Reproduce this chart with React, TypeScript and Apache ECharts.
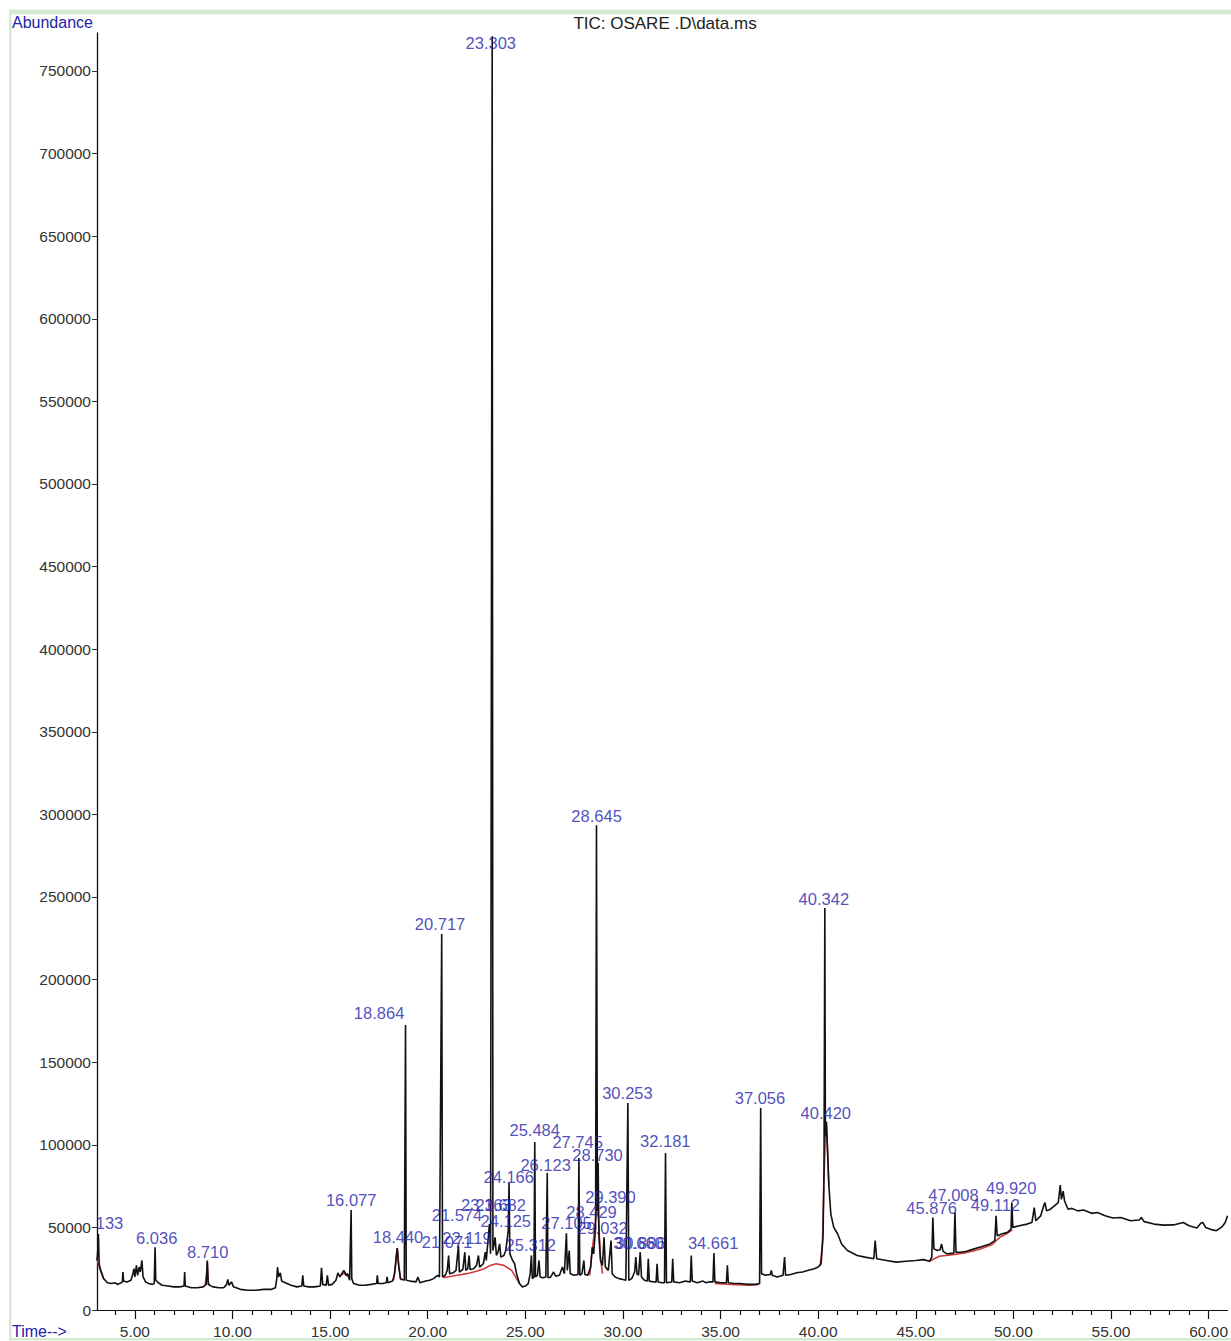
import React, { useEffect, useRef } from "react";
import * as echarts from "echarts";

// Retention time (min), abundance
const TRACE: [number, number][] = [
  [3.06, 30000], [3.1, 36000], [3.133, 46000], [3.17, 28000], [3.25, 24000], [3.4, 19000], [3.6, 16500],
  [3.8, 16000], [4.0, 16500], [4.1, 15500], [4.3, 16500], [4.36, 17000], [4.39, 23000], [4.42, 17500],
  [4.6, 17000], [4.8, 18000], [4.9, 22000], [4.95, 25000], [5.0, 20000], [5.08, 27000], [5.14, 21000],
  [5.22, 26000], [5.28, 23000], [5.36, 30000], [5.42, 20000], [5.55, 17000], [5.7, 16000], [5.9, 15500],
  [5.99, 16000], [6.036, 38000], [6.07, 18000], [6.2, 16500], [6.4, 15000], [6.7, 14500], [7.0, 14000],
  [7.3, 14000], [7.52, 14500], [7.55, 23000], [7.58, 14500], [7.9, 13500], [8.2, 13500], [8.5, 14000],
  [8.65, 15500], [8.71, 30000], [8.76, 15500], [9.0, 14000], [9.3, 13500], [9.55, 13500], [9.7, 15500],
  [9.76, 18500], [9.82, 15000], [9.95, 17000], [10.05, 14000], [10.4, 12500], [10.8, 12000], [11.2, 12000],
  [11.6, 12500], [12.0, 12500], [12.2, 13500], [12.27, 19000], [12.31, 26000], [12.36, 20000], [12.45, 22500],
  [12.52, 17500], [12.7, 16500], [13.0, 15000], [13.3, 14000], [13.55, 14500], [13.6, 21000], [13.65, 14500],
  [13.9, 14000], [14.2, 14000], [14.5, 14500], [14.56, 25500], [14.62, 15500], [14.8, 15000], [14.86, 21000],
  [14.92, 15000], [15.1, 15500], [15.3, 18000], [15.4, 22500], [15.5, 20000], [15.6, 22000], [15.7, 24000],
  [15.8, 21000], [15.9, 22000], [16.0, 18000], [16.077, 60500], [16.11, 19000], [16.2, 16000], [16.5, 15000],
  [16.8, 15000], [17.1, 15500], [17.38, 16000], [17.42, 21000], [17.46, 16000], [17.7, 16000], [17.88, 16500],
  [17.92, 20000], [17.96, 16500], [18.2, 17500], [18.3, 22000], [18.4, 34000], [18.44, 37500], [18.5, 28000],
  [18.6, 19000], [18.8, 18000], [18.864, 172500], [18.9, 18000], [19.1, 17500], [19.4, 17000], [19.5, 20000],
  [19.6, 16500], [19.9, 17500], [20.1, 18000], [20.3, 19000], [20.5, 21000], [20.6, 20000], [20.717, 227600],
  [20.76, 20000], [20.9, 21000], [21.0, 24000], [21.071, 33000], [21.12, 22000], [21.3, 22500], [21.45, 24000],
  [21.574, 39000], [21.62, 23000], [21.8, 24500], [21.9, 35000], [21.95, 24000], [22.05, 25000], [22.119, 33000],
  [22.17, 24500], [22.35, 25000], [22.5, 27000], [22.6, 33000], [22.66, 26000], [22.85, 28000], [22.95, 35000],
  [23.0, 30000], [23.163, 52000], [23.22, 34000], [23.303, 771000], [23.34, 36000], [23.45, 44000], [23.52, 33000],
  [23.6, 35000], [23.682, 40000], [23.75, 32000], [23.9, 33000], [24.0, 36000], [24.125, 48000], [24.166, 77000],
  [24.21, 34000], [24.35, 30000], [24.45, 28000], [24.55, 22000], [24.7, 16000], [24.85, 14000], [25.0, 14500],
  [25.15, 16000], [25.25, 22000], [25.312, 33000], [25.36, 19000], [25.44, 20000], [25.484, 101700], [25.52, 20000],
  [25.62, 21000], [25.7, 30000], [25.76, 20000], [25.9, 19500], [26.05, 20000], [26.123, 83000], [26.16, 19500],
  [26.3, 20000], [26.45, 23000], [26.55, 20500], [26.75, 21000], [26.9, 26000], [27.0, 22000], [27.105, 46500],
  [27.15, 24000], [27.25, 36000], [27.3, 22000], [27.5, 21000], [27.7, 21500], [27.745, 92000], [27.79, 21000],
  [27.9, 22000], [28.0, 30000], [28.05, 21500], [28.2, 21000], [28.35, 26000], [28.429, 38000], [28.5, 34000],
  [28.6, 50000], [28.645, 293500], [28.69, 60000], [28.73, 89000], [28.77, 45000], [28.85, 30000], [28.95, 27000],
  [29.032, 44000], [29.1, 26000], [29.25, 24000], [29.39, 42000], [29.45, 22000], [29.6, 20000], [29.8, 19000],
  [30.0, 18500], [30.15, 18000], [30.253, 125300], [30.3, 18000], [30.45, 19000], [30.6, 23000], [30.66, 32000],
  [30.72, 22000], [30.8, 21000], [30.886, 35000], [30.95, 20000], [31.1, 18000], [31.25, 17500], [31.3, 31000],
  [31.35, 17500], [31.6, 17000], [31.7, 17000], [31.75, 28000], [31.8, 17000], [32.0, 16500], [32.13, 16500],
  [32.181, 95000], [32.23, 16500], [32.5, 17000], [32.55, 31000], [32.6, 17000], [32.9, 16500], [33.2, 17500],
  [33.45, 17000], [33.5, 33000], [33.55, 17500], [33.8, 16500], [34.1, 17500], [34.25, 16500], [34.4, 17000],
  [34.61, 17000], [34.661, 34500], [34.71, 17000], [35.0, 16500], [35.3, 16500], [35.35, 27000], [35.4, 16500],
  [35.7, 16000], [36.0, 16000], [36.4, 15500], [36.8, 15500], [37.0, 16000], [37.056, 122300], [37.1, 22000],
  [37.3, 21000], [37.55, 21500], [37.6, 24000], [37.65, 21000], [37.9, 20000], [38.2, 21000], [38.28, 32000],
  [38.33, 21000], [38.6, 21500], [38.9, 22500], [39.2, 23000], [39.5, 24000], [39.8, 25000], [40.0, 26000],
  [40.15, 28000], [40.25, 45000], [40.3, 85000], [40.342, 243300], [40.37, 105000], [40.42, 114000], [40.47, 100000],
  [40.55, 75000], [40.65, 58000], [40.8, 50000], [41.0, 46000], [41.2, 40000], [41.5, 36000], [42.0, 33000],
  [42.4, 32000], [42.85, 31000], [42.92, 42000], [43.0, 31000], [43.5, 30000], [44.0, 29000], [44.5, 29500],
  [45.0, 30000], [45.4, 30500], [45.7, 29500], [45.82, 32000], [45.876, 56000], [45.93, 37000], [46.1, 36000],
  [46.25, 36500], [46.32, 40000], [46.4, 35500], [46.6, 34000], [46.95, 34500], [47.008, 59000], [47.06, 35000],
  [47.3, 35000], [47.6, 35500], [48.0, 37000], [48.4, 38500], [48.8, 40000], [49.05, 42000], [49.112, 57000],
  [49.17, 45000], [49.4, 46000], [49.7, 47000], [49.88, 49000], [49.92, 65000], [49.97, 50000], [50.3, 51000],
  [50.7, 52000], [50.95, 53000], [51.07, 62000], [51.15, 54000], [51.4, 57000], [51.55, 63000], [51.62, 65000],
  [51.7, 60000], [51.9, 61000], [52.1, 63000], [52.3, 65000], [52.4, 75600], [52.46, 67000], [52.55, 72000],
  [52.62, 66000], [52.8, 61000], [53.0, 61500], [53.3, 60000], [53.6, 60500], [54.0, 58500], [54.3, 59000],
  [54.7, 57000], [55.1, 55700], [55.5, 56000], [56.0, 54000], [56.45, 54500], [56.55, 56000], [56.7, 53500],
  [57.2, 52000], [57.7, 51400], [58.2, 51500], [58.7, 53000], [59.0, 51000], [59.4, 49600], [59.6, 52500],
  [59.7, 53000], [59.85, 50000], [60.2, 48500], [60.4, 48000], [60.7, 50500], [60.85, 53000], [60.97, 57000],
];

// Integration (red) segments
const RED_SEGMENTS: [number, number][][] = [
  [[3.06, 31000], [3.2, 25000], [3.4, 19000]],
  [[8.6, 15000], [8.68, 22000], [8.71, 29000], [8.75, 17000], [8.85, 14500]],
  [[15.6, 21000], [15.75, 23000], [15.9, 20000]],
  [[18.25, 18000], [18.35, 26000], [18.44, 37500], [18.52, 27000], [18.62, 18000]],
  [[20.8, 19500], [21.5, 21000], [22.0, 22000], [22.5, 23500], [22.9, 25000], [23.2, 27000], [23.5, 28000],
   [23.9, 27000], [24.3, 24000], [24.5, 20000], [24.7, 16000]],
  [[28.3, 21000], [28.42, 36000], [28.55, 48000], [28.65, 62000], [28.75, 55000], [28.85, 32000], [28.95, 22000]],
  [[34.7, 16000], [35.5, 15500], [36.5, 15000], [36.95, 15500]],
  [[40.1, 26500], [40.22, 40000], [40.3, 80000], [40.38, 108000], [40.42, 114000], [40.47, 99000], [40.55, 75000]],
  [[45.7, 29500], [46.2, 32500], [46.9, 33500], [47.5, 34500], [48.2, 36500], [48.9, 39500], [49.3, 44000],
   [49.7, 46500], [49.95, 48500]],
];

// Peak labels: text, label time, label abundance
const PEAK_LABELS: [string, number, number][] = [
  ["133", 3.7, 52700], ["6.036", 6.12, 43600], ["8.710", 8.73, 35100], ["16.077", 16.08, 66600],
  ["18.440", 18.48, 44200], ["18.864", 17.51, 179800], ["20.717", 20.63, 233600], ["23.303", 23.23, 767000],
  ["21.574", 21.5, 57500], ["21.071", 20.99, 41200], ["22.119", 22.01, 43600], ["23.163", 23.0, 63600],
  ["23.682", 23.74, 63600], ["24.125", 24.0, 54000], ["24.166", 24.15, 80500], ["25.312", 25.28, 39300],
  ["25.484", 25.48, 109000], ["26.123", 26.04, 87800], ["27.105", 27.11, 52700], ["27.745", 27.68, 101700],
  ["28.429", 28.39, 59300], ["28.645", 28.65, 299000], ["28.730", 28.7, 93800], ["29.032", 28.95, 49600],
  ["29.390", 29.36, 68400], ["30.253", 30.23, 131300], ["30.660", 30.8, 40500], ["30.886", 30.89, 40500],
  ["32.181", 32.17, 102300], ["34.661", 34.62, 40500], ["37.056", 37.02, 128300], ["40.342", 40.29, 248800],
  ["40.420", 40.39, 119200], ["45.876", 45.81, 61700], ["47.008", 46.93, 69600], ["49.112", 49.08, 63600],
  ["49.920", 49.89, 73800],
];

const X_MAJOR = [5, 10, 15, 20, 25, 30, 35, 40, 45, 50, 55, 60];
const X_MINOR = [4, 6, 7, 8, 9, 11, 12, 13, 14, 16, 17, 18, 19, 21, 22, 23, 24, 26, 27, 28, 29, 31, 32, 33, 34,
  36, 37, 38, 39, 41, 42, 43, 44, 46, 47, 48, 49, 51, 52, 53, 54, 56, 57, 58, 59];
const Y_TICKS = [0, 50000, 100000, 150000, 200000, 250000, 300000, 350000, 400000, 450000, 500000, 550000,
  600000, 650000, 700000, 750000];

const X_MIN = 3.06;
const X_MAX = 60.97;
const Y_MAX = 773000;

const FONT = "Liberation Sans, Arial, sans-serif";
const BLUE = "#2222aa";

export default function App() {
  const ref = useRef<HTMLDivElement>(null);
  useEffect(() => {
    if (!ref.current) return;
    const chart = echarts.init(ref.current, undefined, { renderer: "svg" });
    const redSeries = RED_SEGMENTS.map((seg) => ({
      type: "line",
      data: seg,
      showSymbol: false,
      symbol: "none",
      silent: true,
      z: 2,
      lineStyle: { color: "#d43a3a", width: 1.6 },
    }));
    chart.setOption({
      animation: false,
      backgroundColor: "#ffffff",
      grid: { left: 97, right: 0, top: 33, bottom: 31, containLabel: false },
      xAxis: [
        {
          type: "value",
          min: X_MIN,
          max: X_MAX,
          axisLine: { show: true, lineStyle: { color: "#111", width: 1.2 } },
          axisTick: { show: true, customValues: X_MAJOR, length: 9, lineStyle: { color: "#111", width: 1.2 } },
          axisLabel: {
            customValues: X_MAJOR,
            formatter: (v: number) => v.toFixed(2),
            fontFamily: FONT,
            fontSize: 15.5,
            color: "#333",
            margin: 13,
          },
          splitLine: { show: false },
        },
        {
          type: "value",
          min: X_MIN,
          max: X_MAX,
          position: "bottom",
          axisLine: { show: false },
          axisTick: { show: true, customValues: X_MINOR, length: 5, lineStyle: { color: "#111", width: 1.2 } },
          axisLabel: { show: false },
          splitLine: { show: false },
        },
      ],
      yAxis: {
        type: "value",
        min: 0,
        max: Y_MAX,
        axisLine: { show: true, lineStyle: { color: "#111", width: 1.3 } },
        axisTick: { show: true, customValues: Y_TICKS, length: 5, lineStyle: { color: "#333" } },
        axisLabel: {
          customValues: Y_TICKS,
          formatter: (v: number) => String(Math.round(v)),
          fontFamily: FONT,
          fontSize: 15.5,
          color: "#333",
          margin: 6,
        },
        splitLine: { show: false },
      },
      series: [
        ...redSeries,
        {
          type: "line",
          data: TRACE,
          showSymbol: false,
          symbol: "none",
          silent: true,
          z: 3,
          lineStyle: { color: "#111", width: 1.6 },
        },
        {
          type: "scatter",
          data: PEAK_LABELS.map(([text, t, v]) => [t, v, text]),
          symbolSize: 1,
          itemStyle: { color: "rgba(0,0,0,0)" },
          silent: true,
          z: 4,
          label: {
            show: true,
            position: "inside",
            formatter: (p: any) => p.value[2],
            fontFamily: FONT,
            fontSize: 16.5,
            color: BLUE,
          },
        },
      ],
      graphic: [
        { type: "rect", shape: { x: 9, y: 9.5, width: 1240, height: 5 }, style: { fill: "#d3ebd3" }, silent: true },
        { type: "rect", shape: { x: 9, y: 9.5, width: 2.5, height: 1331 }, style: { fill: "#d3ebd3" }, silent: true },
        { type: "rect", shape: { x: 9, y: 1338, width: 1240, height: 2.5 }, style: { fill: "#d3ebd3" }, silent: true },
        {
          type: "text",
          left: 12,
          top: 14,
          style: { text: "Abundance", fontFamily: FONT, fontSize: 16, fill: BLUE },
        },
        {
          type: "text",
          x: 665,
          y: 23,
          style: {
            text: "TIC: OSARE .D\\data.ms",
            fontFamily: FONT,
            fontSize: 17,
            fill: "#222",
            align: "center",
            verticalAlign: "middle",
          },
        },
        {
          type: "text",
          x: 12,
          y: 1331,
          style: { text: "Time-->", fontFamily: FONT, fontSize: 16, fill: BLUE, verticalAlign: "middle" },
        },
      ],
    });
    return () => chart.dispose();
  }, []);
  return (
    <div
      ref={ref}
      style={{ position: "absolute", left: 0, top: 0, width: 1231, height: 1341, background: "#fff" }}
    />
  );
}
